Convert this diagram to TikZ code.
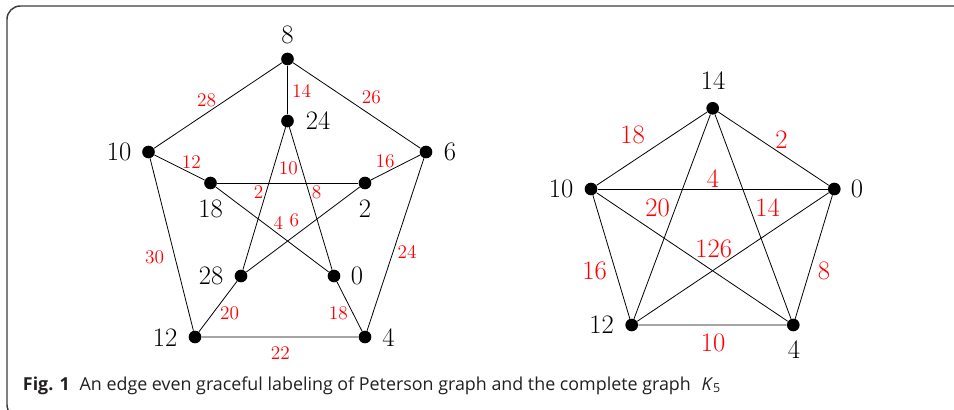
\documentclass[tikz,border=0pt]{standalone}
\usepackage{fontspec}
\newfontfamily\capfont{Open Sans}
\begin{document}
\begin{tikzpicture}[x=0.75pt,y=0.75pt,yscale=-1,xscale=1,
        vertex/.style={circle,fill=black,inner sep=0pt,minimum size=9.5pt},
        vlabel/.style={inner sep=0pt,font=\fontsize{20}{24}\selectfont},
        elabel/.style={inner sep=0pt,text=red,font=\fontsize{14.5}{17}\selectfont},
        klabel/.style={inner sep=0pt,text=red,font=\fontsize{20}{24}\selectfont},
        edge/.style={line width=0.6pt}]
        \useasboundingbox (0,0) rectangle (954,410);
        \clip (0,0) rectangle (954,410);
        % frame
        \draw [color={rgb, 255:red, 60; green, 60; blue, 60 }, line width=1.1pt, rounded corners=10pt] (970,6) -- (7,6) -- (7,418) -- (40,418);
        % Peterson graph
        \node [vertex] (p8) at (287.5,59) {};
        \node [vertex] (p10) at (148.5,152) {};
        \node [vertex] (p6) at (426,152) {};
        \node [vertex] (p12) at (195,337) {};
        \node [vertex] (p4) at (365,337) {};
        \node [vertex] (p24) at (287.5,121) {};
        \node [vertex] (p18) at (210.5,183) {};
        \node [vertex] (p2) at (365,183) {};
        \node [vertex] (p28) at (241,276) {};
        \node [vertex] (p0) at (334,276) {};
        \draw [edge] (p8) -- (p10) -- (p12) -- (p4) -- (p6) -- (p8);
        \draw [edge] (p8) -- (p24);
        \draw [edge] (p10) -- (p18);
        \draw [edge] (p6) -- (p2);
        \draw [edge] (p12) -- (p28);
        \draw [edge] (p4) -- (p0);
        \draw [edge] (p24) -- (p28);
        \draw [edge] (p24) -- (p0);
        \draw [edge] (p18) -- (p2);
        \draw [edge] (p18) -- (p0);
        \draw [edge] (p2) -- (p28);
        \node [vlabel] (lp8) at (287.5,35) {8};
        \node [vlabel] (lp24) at (318,121) {24};
        \node [vlabel] (lp10) at (119,152) {10};
        \node [vlabel] (lp6) at (450,152) {6};
        \node [vlabel] (lp18) at (210.5,209) {18};
        \node [vlabel] (lp2) at (365,209) {2};
        \node [vlabel] (lp28) at (211,276) {28};
        \node [vlabel] (lp0) at (357,276) {0};
        \node [vlabel] (lp12) at (165,337.5) {12};
        \node [vlabel] (lp4) at (388.5,337.5) {4};
        \node [elabel] (e28) at (206.7,100) {28};
        \node [elabel] (e14) at (301.7,91) {14};
        \node [elabel] (e26) at (371.3,97) {26};
        \node [elabel] (e12) at (191.3,161.7) {12};
        \node [elabel] (e16) at (385,161.7) {16};
        \node [elabel] (e10) at (288.3,168.7) {10};
        \node [elabel] (e2) at (258.7,192) {2};
        \node [elabel] (e8) at (316.7,192) {8};
        \node [elabel] (e4) at (278.3,222.7) {4};
        \node [elabel] (e6) at (294.3,220) {6};
        \node [elabel] (e30) at (154.7,257) {30};
        \node [elabel] (e24) at (407,251.7) {24};
        \node [elabel] (e20) at (229.7,313.3) {20};
        \node [elabel] (e18) at (338.3,313.3) {18};
        \node [elabel] (e22) at (280.3,353) {22};
        % complete graph K5
        \node [vertex] (k14) at (712.7,108.3) {};
        \node [vertex] (k10) at (591,189) {};
        \node [vertex] (k0) at (834.3,189) {};
        \node [vertex] (k12) at (631.7,325) {};
        \node [vertex] (k4) at (793.3,325) {};
        \draw [edge] (k14) -- (k10) -- (k12) -- (k4) -- (k0) -- (k14);
        \draw [edge] (k14) -- (k12);
        \draw [edge] (k14) -- (k4);
        \draw [edge] (k10) -- (k0);
        \draw [edge] (k10) -- (k4);
        \draw [edge] (k0) -- (k12);
        \node [vlabel] (lk14) at (713,81) {14};
        \node [vlabel] (lk10) at (561,189) {10};
        \node [vlabel] (lk0) at (857,189) {0};
        \node [vlabel] (lk12) at (601.7,325) {12};
        \node [vlabel] (lk4) at (794,350) {4};
        \node [klabel] (f18) at (632.5,135.3) {18};
        \node [klabel] (f2) at (781.5,140) {2};
        \node [klabel] (f4) at (713,179) {4};
        \node [klabel] (f20) at (657.5,207.5) {20};
        \node [klabel] (f14) at (767.5,207.5) {14};
        \node [klabel] (f12) at (707.5,248.5) {12};
        \node [klabel] (f6) at (726,248.5) {6};
        \node [klabel] (f16) at (594.5,271) {16};
        \node [klabel] (f8) at (824,271) {8};
        \node [klabel] (f10) at (713,343) {10};
        % caption
        \node [anchor=base west, inner sep=0pt, text={rgb, 255:red, 35; green, 31; blue, 32 }, font=\capfont\fontsize{13.4}{16}\selectfont] (cap) at (22.7,390) {\textbf{Fig. 1}\hspace{0.55em}An edge even graceful labeling of Peterson graph and the complete graph\hspace{0.6em}\textit{K}\textsubscript{5}};
    \end{tikzpicture}
\end{document}
